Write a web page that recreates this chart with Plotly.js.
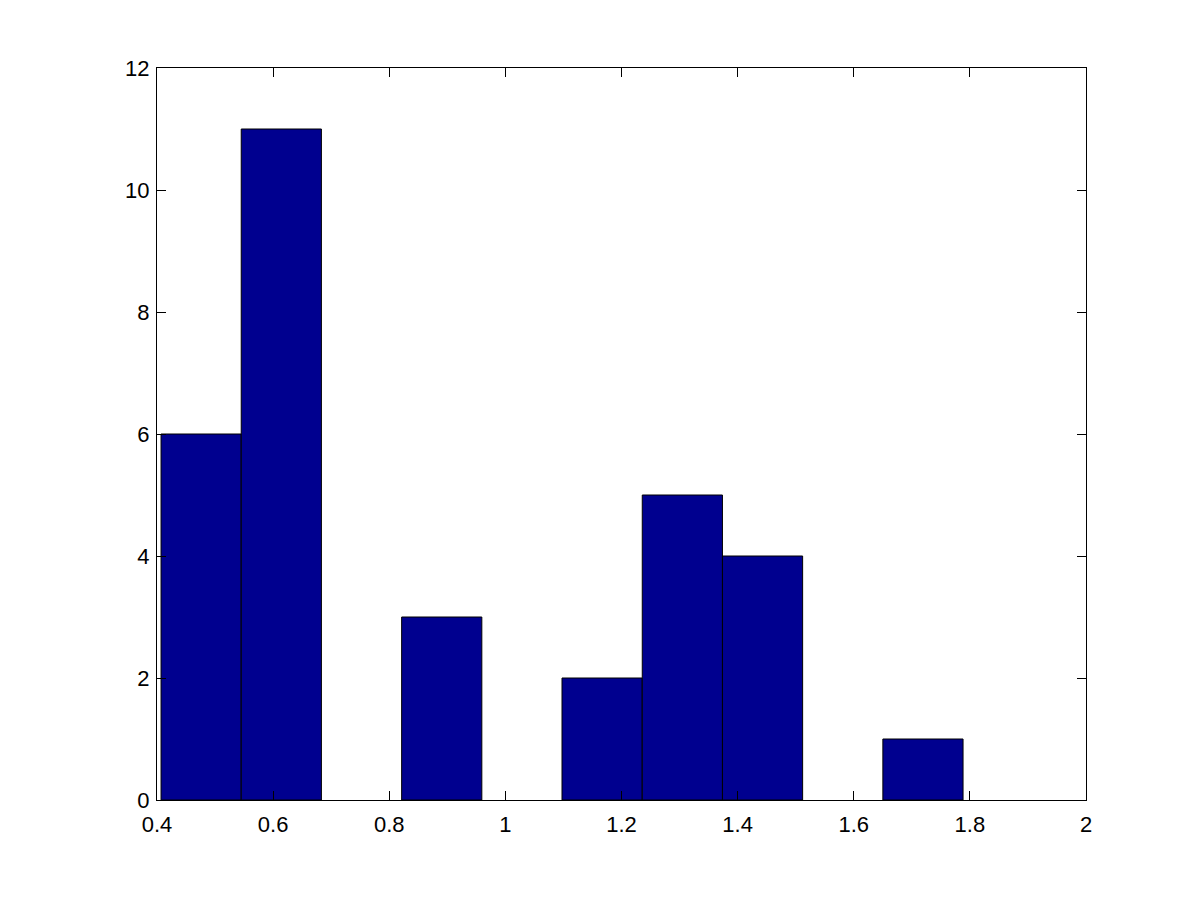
<!DOCTYPE html>
<html>
<head>
<meta charset="utf-8">
<script src="https://cdn.plot.ly/plotly-3.0.1.min.js"></script>
<style>html,body{margin:0;padding:0;background:#fff;}#chart{width:1200px;height:900px;}</style>
</head>
<body>
<div id="chart"></div>
<script>
// Histogram bin centers (10 equal bins) and counts
const binCenters = [0.4760, 0.6141, 0.7523, 0.8904, 1.0285, 1.1666, 1.3048, 1.4429, 1.5810, 1.7192];
const counts = [6, 11, 0, 3, 0, 2, 5, 4, 0, 1];
const binWidth = 0.1381;
const xTicks = [0.4, 0.6, 0.8, 1, 1.2, 1.4, 1.6, 1.8, 2];
const xTickLabels = ['0.4', '0.6', '0.8', '1', '1.2', '1.4', '1.6', '1.8', '2'];
const yTicks = [0, 2, 4, 6, 8, 10, 12];

const trace = {
  type: 'bar',
  x: binCenters,
  y: counts,
  width: binWidth,
  marker: {
    color: '#00008F',
    line: {color: '#000000', width: counts.map(c => c > 0 ? 1 : 0)}
  },
  hoverinfo: 'x+y'
};

const axisCommon = {
  showgrid: false,
  zeroline: false,
  showline: true,
  linecolor: '#000',
  linewidth: 1,
  mirror: 'ticks',
  ticks: 'inside',
  ticklen: 9,
  tickwidth: 1,
  tickcolor: '#000',
  tickfont: {family: 'Liberation Sans, Arial, sans-serif', size: 22, color: '#000'}
};

const layout = {
  width: 1200,
  height: 900,
  paper_bgcolor: '#fff',
  plot_bgcolor: '#fff',
  margin: {l: 157, r: 114, t: 68, b: 100, pad: 0},
  showlegend: false,
  bargap: 0,
  xaxis: Object.assign({}, axisCommon, {
    range: [0.4, 2],
    tickmode: 'array',
    tickvals: xTicks,
    ticktext: xTickLabels,
    ticklabelstandoff: 5
  }),
  yaxis: Object.assign({}, axisCommon, {
    range: [0, 12],
    tickmode: 'array',
    tickvals: yTicks,
    ticklabelstandoff: 2
  })
};

Plotly.newPlot('chart', [trace], layout, {displayModeBar: false, staticPlot: true});
</script>
</body>
</html>
